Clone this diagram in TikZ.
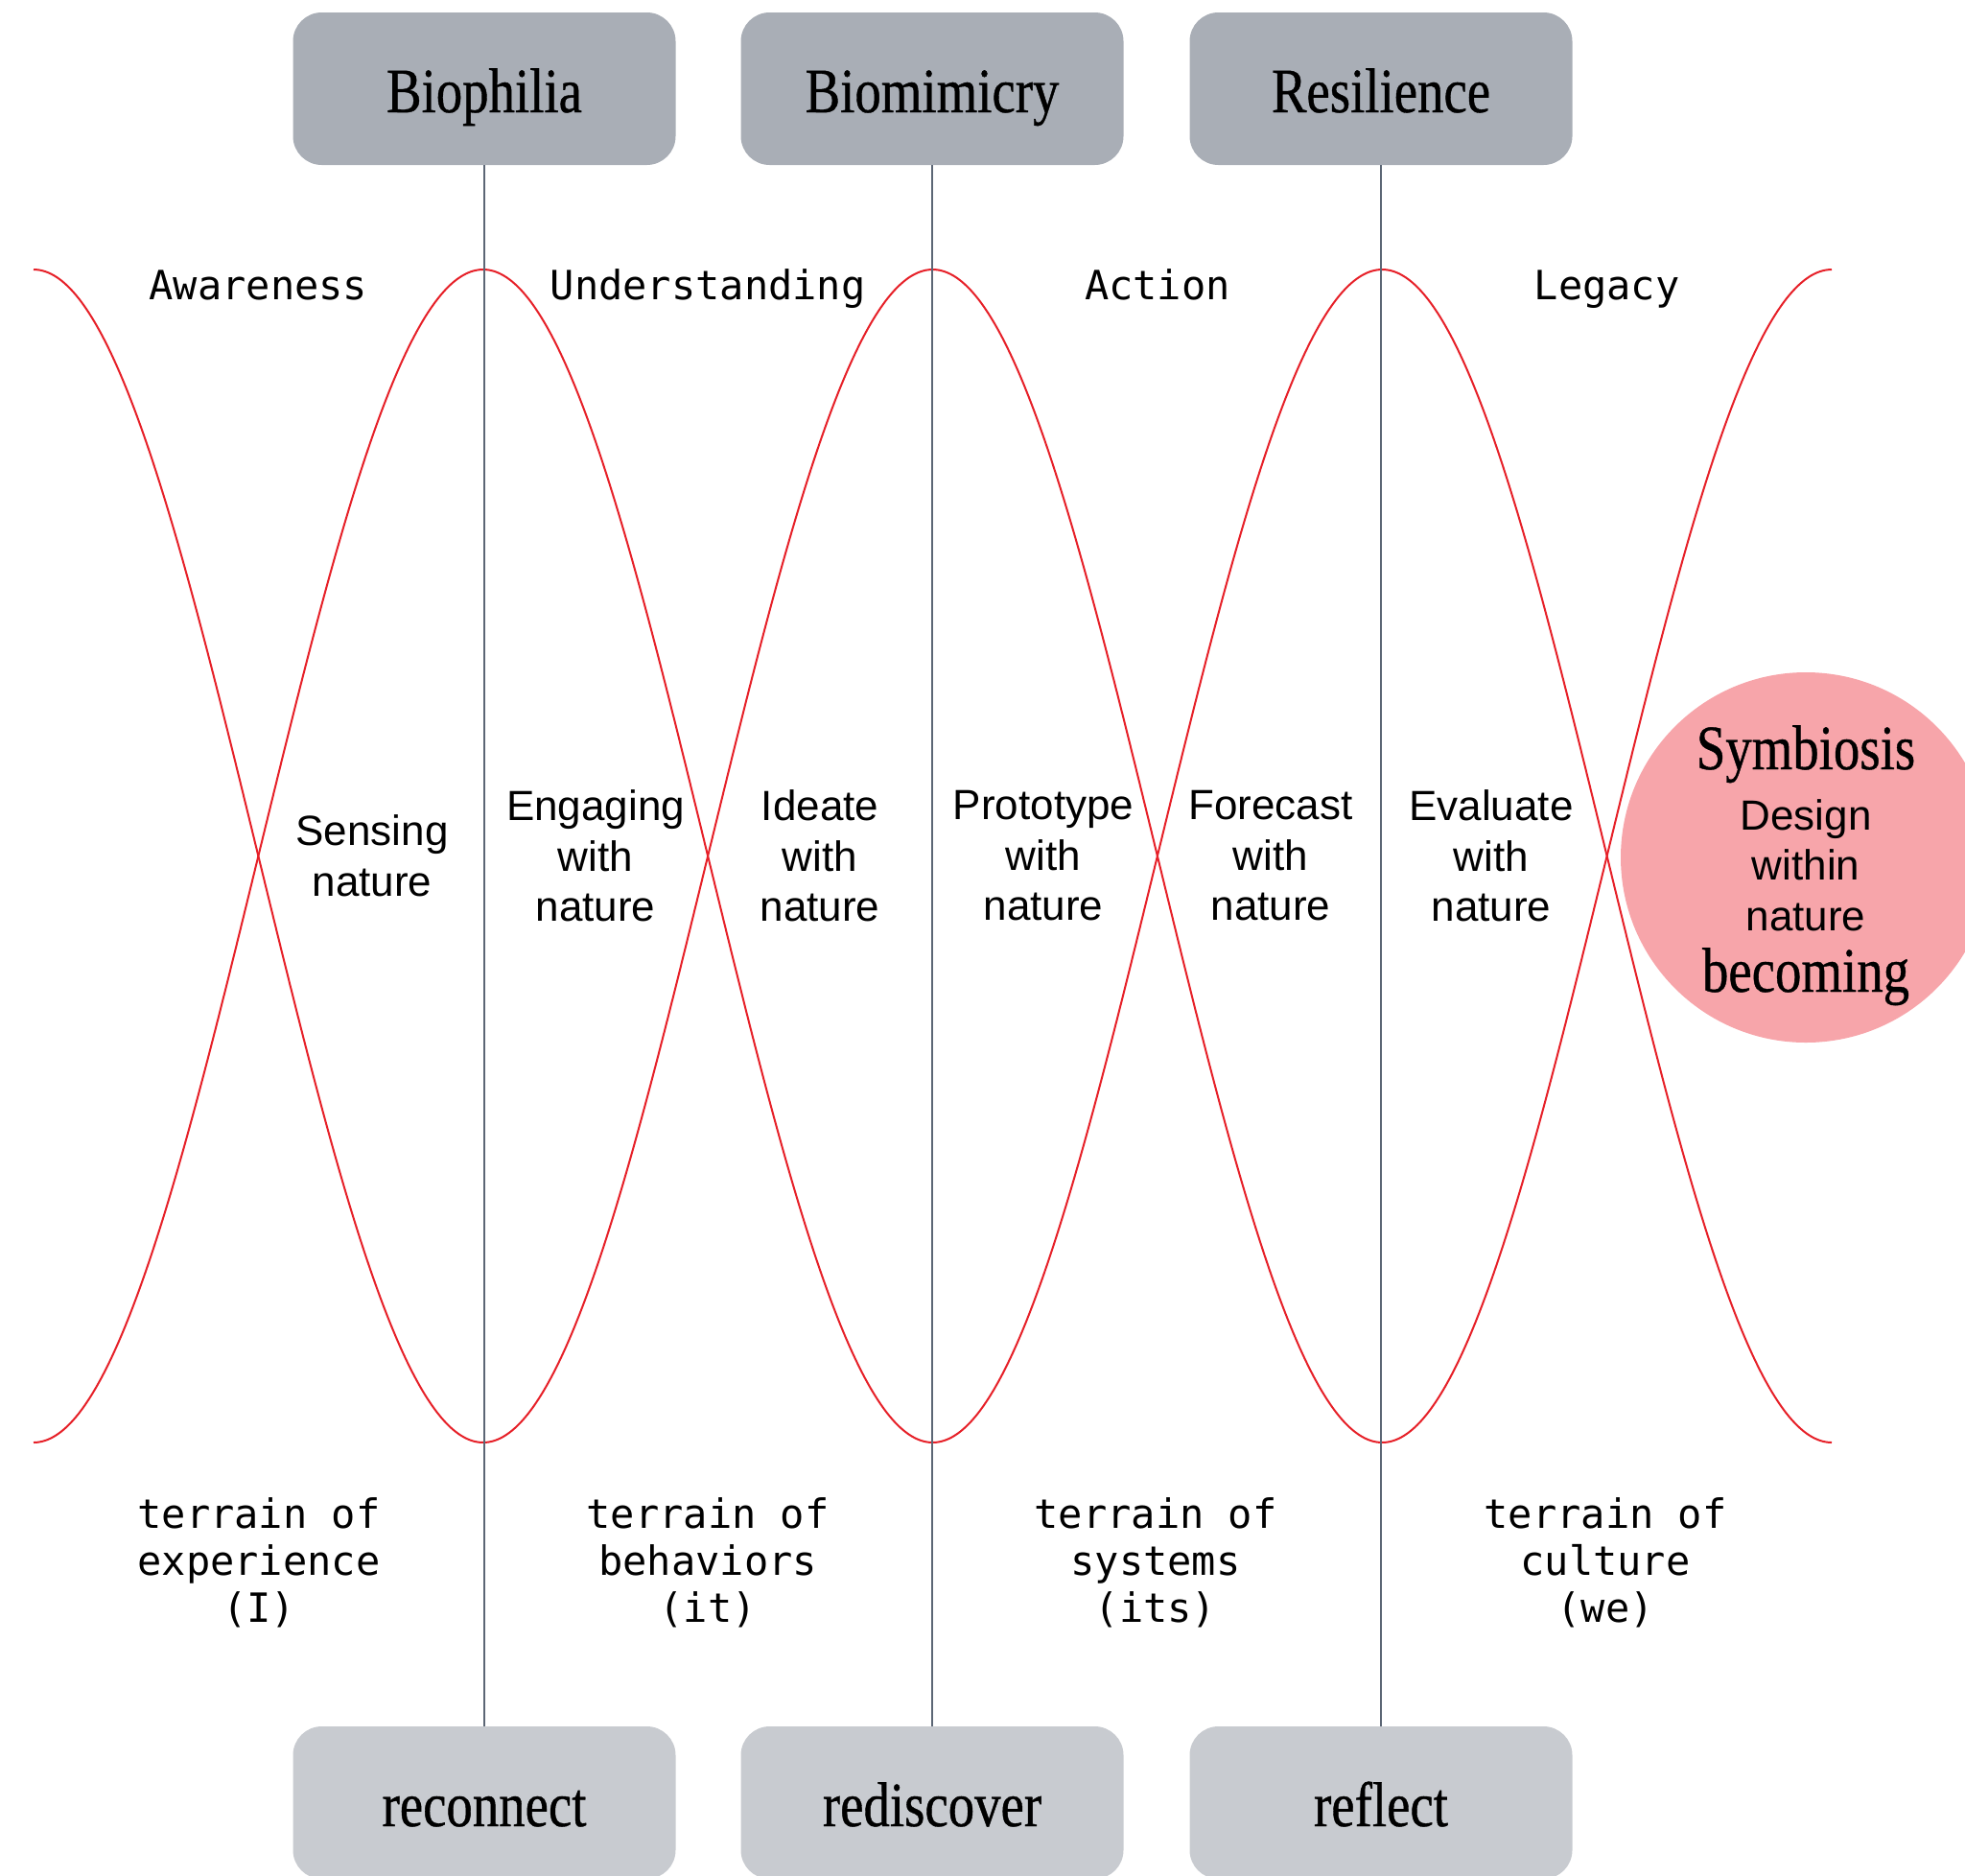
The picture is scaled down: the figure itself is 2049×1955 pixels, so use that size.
\documentclass[tikz,border=0pt]{standalone}
\usepackage{fontspec}
\setmainfont{Liberation Sans}
\newfontfamily\condserif[FakeStretch=0.83,FakeBold=0.6]{Liberation Serif}
\newfontfamily\monofont{DejaVu Sans Mono}
\definecolor{topgray}{RGB}{169,174,182}
\definecolor{botgray}{RGB}{200,203,208}
\definecolor{linegray}{RGB}{92,102,117}
\definecolor{curvered}{RGB}{230,32,40}
\definecolor{sympink}{RGB}{247,165,170}
\begin{document}
\begin{tikzpicture}[x=1pt,y=-1pt,
  boxbase/.style={rectangle, rounded corners=30pt, minimum width=399pt, minimum height=159pt,
    inner sep=0pt, font=\condserif\fontsize{66}{79}\selectfont, text height=49pt, text depth=0pt},
  topbox/.style={boxbase, fill=topgray},
  botbox/.style={boxbase, fill=botgray},
  midlabel/.style={align=center, inner sep=0pt, font=\fontsize{44}{52.5}\selectfont},
  phase/.style={anchor=base, inner sep=0pt, font=\monofont\fontsize{42}{50}\selectfont},
  terrain/.style={align=center, inner sep=0pt, font=\monofont\fontsize{42}{49}\selectfont},
  wave/.style={draw=curvered, line width=2pt},
  axisline/.style={draw=linegray, line width=2pt},
  bigserif/.style={anchor=base, inner sep=0pt, font=\condserif\fontsize{66}{79}\selectfont},
  symsans/.style={anchor=base, inner sep=0pt, font=\fontsize{44}{52.5}\selectfont}
]
\useasboundingbox (0,0) rectangle (2049,1955);

% waves
\draw[wave, domain=35:1910, samples=400, smooth, variable=\x]
  plot (\x, {892.5-611.5*cos((\x-35)/468.75*180)});
\draw[wave, domain=35:1910, samples=400, smooth, variable=\x]
  plot (\x, {892.5+611.5*cos((\x-35)/468.75*180)});

% boxes
\node[topbox] (t1) at (505,92.5) {Biophilia};
\node[topbox] (t2) at (972,92.5) {Biomimicry};
\node[topbox] (t3) at (1440,92.5) {Resilience};
\node[botbox] (b1) at (505,1879.5) {reconnect};
\node[botbox] (b2) at (972,1879.5) {rediscover};
\node[botbox] (b3) at (1440,1879.5) {reflect};

\draw[axisline] (t1.south) -- (b1.north);
\draw[axisline] (t2.south) -- (b2.north);
\draw[axisline] (t3.south) -- (b3.north);

% phase labels
\node[phase] (p1) at (269.4,312) {Awareness};
\node[phase] (p2) at (738.1,312) {Understanding};
\node[phase] (p3) at (1206.9,312) {Action};
\node[phase] (p4) at (1675.6,312) {Legacy};

% middle labels
\node[midlabel] (m1) at (388,892.5) {Sensing\\nature};
\node[midlabel] (m2) at (621,892.5) {Engaging\\with\\nature};
\node[midlabel] (m3) at (855,892.5) {Ideate\\with\\nature};
\node[midlabel] (m4) at (1088,892.5) {Prototype\\with\\nature};
\node[midlabel] (m5) at (1325,892.5) {Forecast\\with\\nature};
\node[midlabel] (m6) at (1555,892.5) {Evaluate\\with\\nature};

% terrain labels
\node[terrain] (r1) at (270,1629) {terrain of\\experience\\(I)};
\node[terrain] (r2) at (738.1,1629) {terrain of\\behaviors\\(it)};
\node[terrain] (r3) at (1205,1629) {terrain of\\systems\\(its)};
\node[terrain] (r4) at (1674,1629) {terrain of\\culture\\(we)};

% symbiosis
\node[circle, fill=sympink, minimum size=386pt, inner sep=0pt] (sym) at (1883,894) {};
\node[bigserif] (s1) at (1883,802) {Symbiosis};
\node[symsans] (s2) at (1883,865) {Design};
\node[symsans] (s3) at (1883,917.5) {within};
\node[symsans] (s4) at (1883,970) {nature};
\node[bigserif] (s5) at (1883,1034) {becoming};
\end{tikzpicture}
\end{document}
